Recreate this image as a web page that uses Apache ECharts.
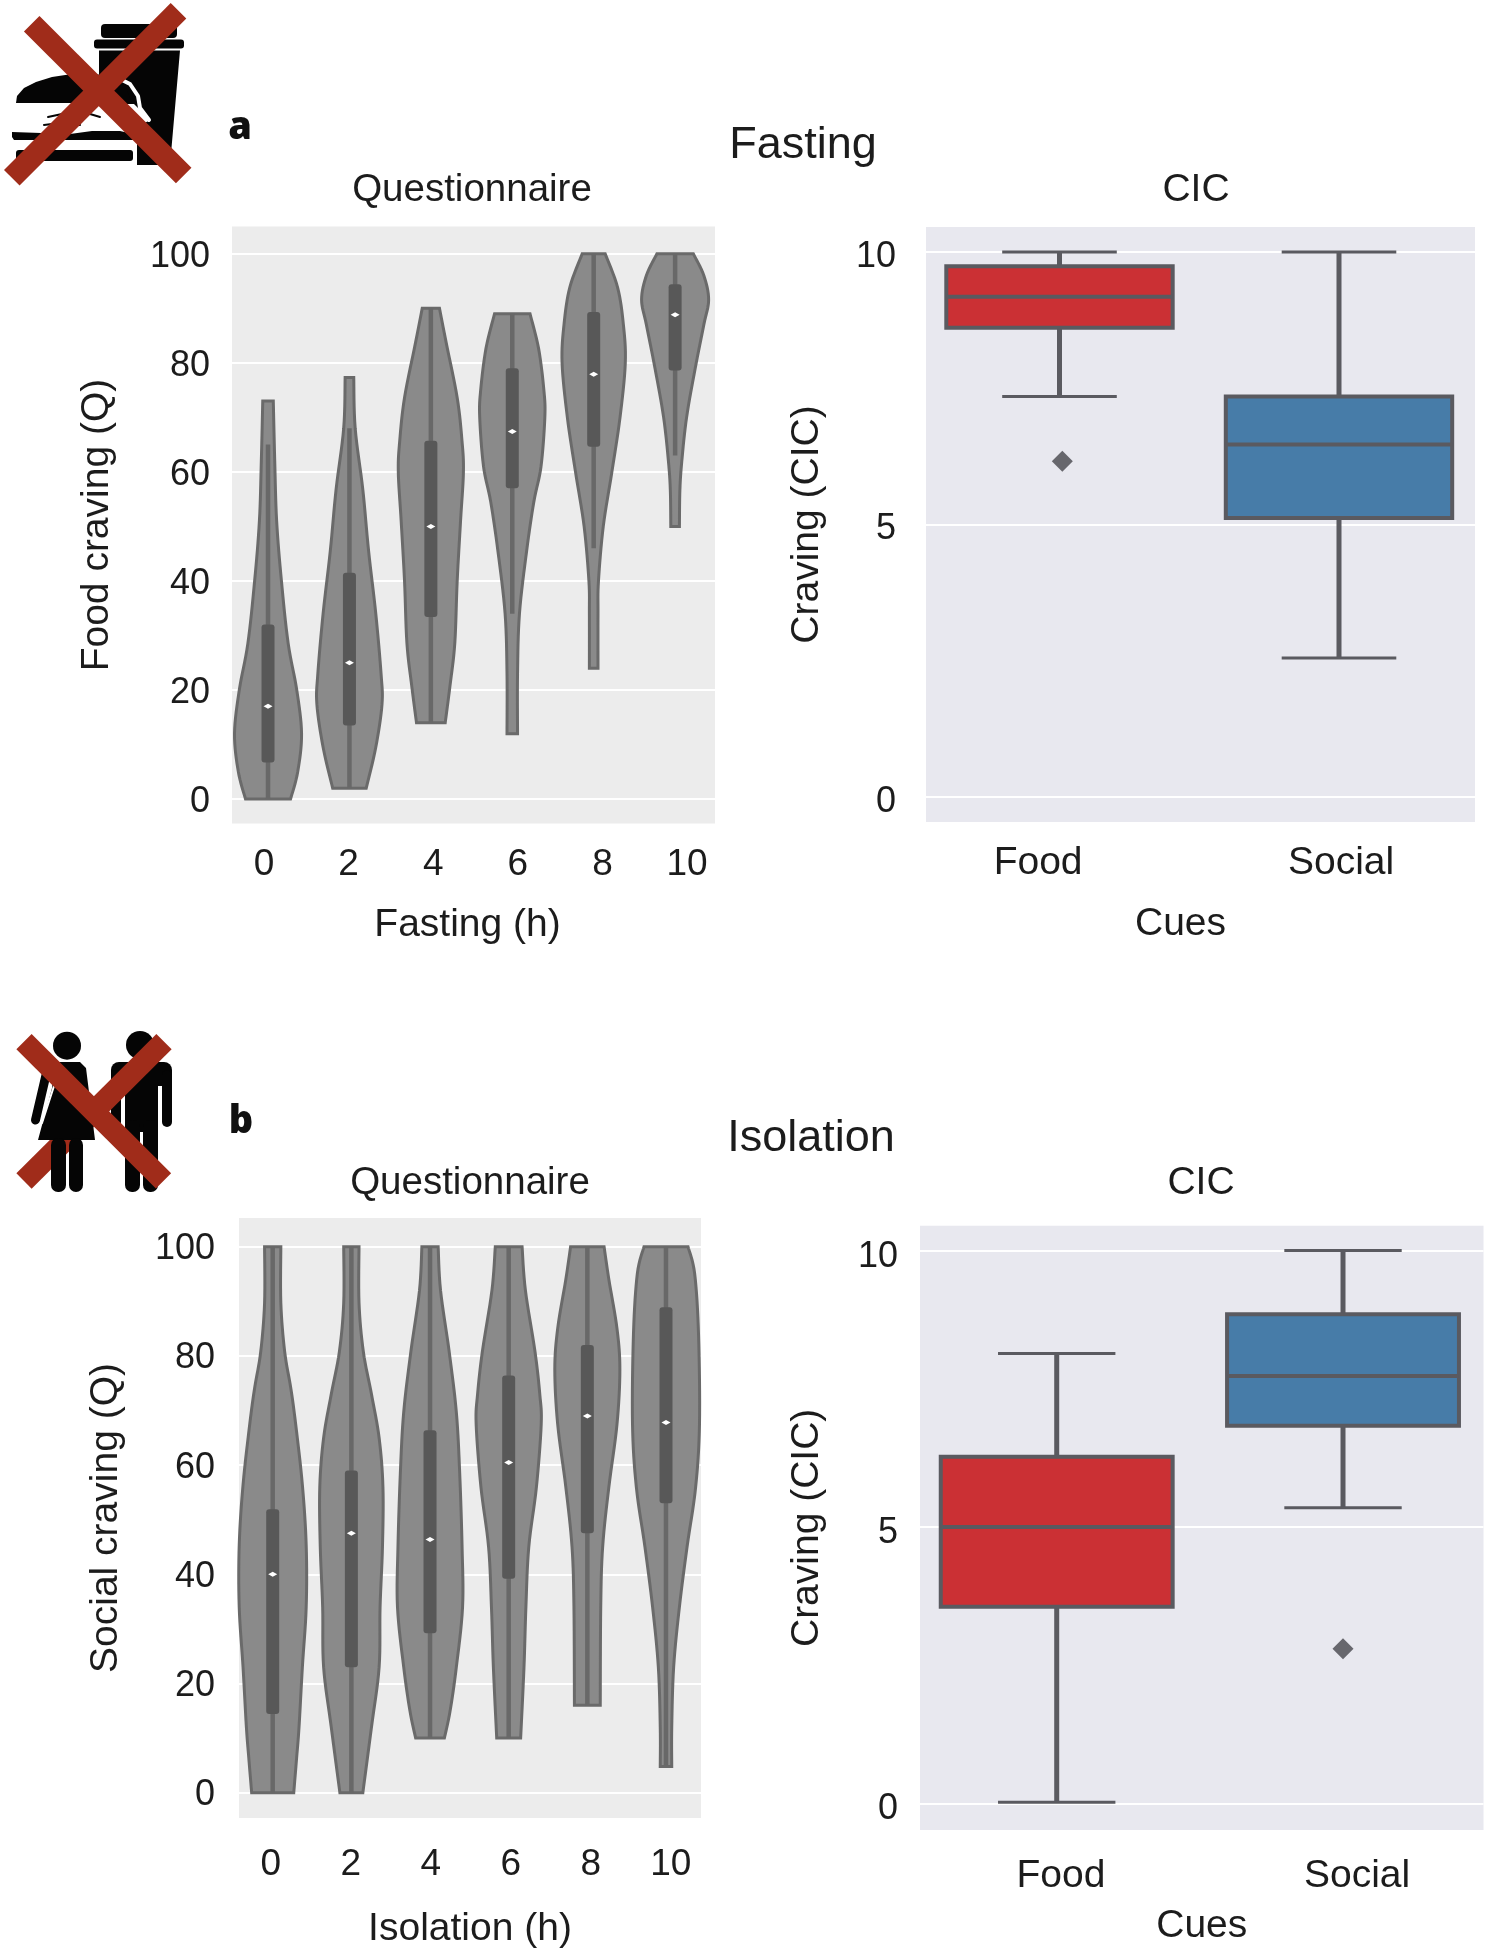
<!DOCTYPE html>
<html><head><meta charset="utf-8">
<style>html,body{margin:0;padding:0;background:#fff}#c{width:1492px;height:1950px}</style>
<script src="https://cdn.jsdelivr.net/npm/echarts@6/dist/echarts.min.js"></script>
</head><body><div id="c"></div>
<script>
// ---------- data ----------
const hours = [0, 2, 4, 6, 8, 10];
const cues = ['Food', 'Social'];
const questTicks = [0, 20, 40, 60, 80, 100];
const cicTicks = [0, 5, 10];

// violin statistics: [hour, whiskerLow, q1, median, q3, whiskerHigh]
const fastingStats = [
  [0, 0, 6.7, 17, 32, 65], [2, 2, 13.5, 25, 41.5, 68], [4, 14, 33.4, 50, 65.7, 90],
  [6, 34, 57, 67.4, 79, 89], [8, 46, 64.6, 77.9, 89.3, 100], [10, 63, 78.6, 88.8, 94.4, 100]
];
const isolationStats = [
  [0, 0, 14.4, 40, 51.9, 100], [2, 0, 23, 47.5, 59, 100], [4, 10, 29.2, 46.4, 66.4, 100],
  [6, 10, 39.2, 60.5, 76.4, 100], [8, 16, 47.5, 69, 82, 100], [10, 5, 53, 67.8, 88.9, 100]
];
// violin outlines: [craving, relative half width], from the top of each violin down
const fastingShape0 = [[73,11],[62,14],[51,18],[40,28],[28.6,42],[20,60],[12,70],[5,62],[0,47]];
const fastingShape2 = [[77.3,9],[68,12],[56.7,28],[45.5,40],[34,55],[23,66],[17.4,68],[9.5,55],[2,35]];
const fastingShape4 = [[90,18],[83.7,32],[73.6,55],[65.7,65],[60,68],[51,62],[40,55],[28.6,50],[20.8,40],[14,30]];
const fastingShape6 = [[89,37],[82.6,55],[75,66],[70,68],[61,60],[54.5,45],[45.5,30],[34,15],[23,11],[12,11]];
const fastingShape8 = [[100,24],[93.8,50],[87,62],[80,66],[70,55],[60,38],[50,20],[40,10],[34,9],[24,9]];
const fastingShape10 = [[100,38],[96,60],[91.6,70],[87,60],[79,42],[70,24],[62,14],[56.7,10],[50,9]];
const isolationShape0 = [[100,17],[89.7,17],[80.8,25],[74,38],[67.5,48],[56.4,62],[45.3,70],[34,70],[23,62],[12,55],[6.4,50],[0,44]];
const isolationShape2 = [[100,16],[89.7,16],[80.8,25],[73,42],[65,58],[56,66],[45,65],[34,60],[23,58],[12,42],[0,24]];
const isolationShape4 = [[100,17],[92,22],[80.8,40],[69.7,55],[58.6,62],[45,67],[34,68],[23,55],[15,42],[10,30]];
const isolationShape6 = [[100,28],[92,35],[80.8,55],[73,65],[67.5,68],[56,58],[45,42],[34,36],[23,32],[10,25]];
const isolationShape8 = [[100,35],[94,45],[85,62],[77.5,68],[67.5,62],[56,45],[45,32],[34,28],[16,27]];
const isolationShape10 = [[100,46],[95,60],[84,68],[67.5,70],[56,62],[45,44],[34,28],[23,16],[12,12],[4.8,12]];
const fastingShapes = [fastingShape0, fastingShape2, fastingShape4, fastingShape6, fastingShape8, fastingShape10];
const isolationShapes = [isolationShape0, isolationShape2, isolationShape4, isolationShape6, isolationShape8, isolationShape10];

// box statistics: [cue index, whiskerLow, q1, median, q3, whiskerHigh]
const fastingFood = [[0, 7.35, 8.61, 9.18, 9.74, 10]];
const fastingSocial = [[1, 2.55, 5.12, 6.47, 7.35, 10]];
const fastingOutliers = [[0.01, 6.16]];
const isolationFood = [[0, 0.02, 3.56, 5.0, 6.27, 8.14]];
const isolationSocial = [[1, 5.35, 6.83, 7.73, 8.85, 10]];
const isolationOutliers = [[1, 2.8]];

// ---------- styles ----------
const FONT = '"Liberation Sans", Arial, sans-serif';
const TXT = '#1c1c1c', EDGE = '#5a5a60', VEDGE = '#6a6a6a', INNER = '#585858', RED = '#cb3034', BLUE = '#477ca8', X_RED = '#a02c1a';

function catmull(pts) {            // smooth outline in pixel space
  const out = [];
  for (let i = 0; i < pts.length - 1; i++) {
    const p0 = pts[Math.max(i - 1, 0)], p1 = pts[i], p2 = pts[i + 1], p3 = pts[Math.min(i + 2, pts.length - 1)];
    for (let t = 0; t < 1; t += 0.125) {
      const t2 = t * t, t3 = t2 * t;
      out.push([0, 1].map(k => 0.5 * (2 * p1[k] + (p2[k] - p0[k]) * t + (2 * p0[k] - 5 * p1[k] + 4 * p2[k] - p3[k]) * t2 + (3 * p1[k] - p0[k] - 3 * p2[k] + p3[k]) * t3)));
    }
  }
  out.push(pts[pts.length - 1]);
  return out;
}
function violinSeries(idx, stats, shapes, hourScale) {
  return {
    type: 'custom', xAxisIndex: idx * 2, yAxisIndex: idx, data: stats,
    encode: { x: 0, y: [1, 2, 3, 4, 5] },
    renderItem(params, api) {
      const h = api.value(0), prof = shapes[params.dataIndex];
      const right = catmull(prof.map(p => api.coord([h + p[1] / hourScale, p[0]])));
      const left = catmull(prof.map(p => api.coord([h - p[1] / hourScale, p[0]]))).reverse();
      const cx = api.coord([h, 0])[0];
      const y = i => api.coord([h, api.value(i)])[1];
      return { type: 'group', children: [
        { type: 'polygon', shape: { points: right.concat(left) }, style: { fill: '#8a8a8a', stroke: VEDGE, lineWidth: 3 } },
        { type: 'line', shape: { x1: cx, y1: y(5), x2: cx, y2: y(1) }, style: { stroke: '#686868', lineWidth: 4.5 } },
        { type: 'rect', shape: { x: cx - 6.5, y: y(4), width: 13, height: y(2) - y(4), r: 3 }, style: { fill: INNER } },
        { type: 'polygon', shape: { points: [[cx - 4.5, y(3)], [cx, y(3) - 2.5], [cx + 4.5, y(3)], [cx, y(3) + 2.5]] }, style: { fill: '#ffffff' } }
      ] };
    }
  };
}
function boxSeries(name, idx, stats, color) {
  return {
    type: 'custom', name, xAxisIndex: idx * 2, yAxisIndex: idx, data: stats,
    encode: { x: 0, y: [1, 2, 3, 4, 5] },
    renderItem(params, api) {
      const c = api.value(0), P = (x, v) => api.coord([x, v]);
      const y = i => P(c, api.value(i))[1], cx = P(c, 0)[0];
      const xl = P(c - 0.405, 0)[0], xr = P(c + 0.405, 0)[0], cl = P(c - 0.205, 0)[0], cr = P(c + 0.205, 0)[0];
      const ln = (x1, y1, x2, y2, w) => ({ type: 'line', shape: { x1, y1, x2, y2 }, style: { stroke: EDGE, lineWidth: w } });
      return { type: 'group', children: [
        ln(cx, y(5), cx, y(4), 5), ln(cx, y(2), cx, y(1), 5),
        ln(cl, y(5), cr, y(5), 3), ln(cl, y(1), cr, y(1), 3),
        { type: 'rect', shape: { x: xl, y: y(4), width: xr - xl, height: y(2) - y(4) }, style: { fill: color, stroke: EDGE, lineWidth: 4 } },
        ln(xl, y(3), xr, y(3), 4)
      ] };
    }
  };
}
function outlierSeries(idx, data) {
  return { type: 'scatter', xAxisIndex: idx * 2, yAxisIndex: idx, data, symbol: 'diamond', symbolSize: 21, itemStyle: { color: '#46464c' } };
}

// panel rectangles and axis windows
const panels = [
  { l: 232, t: 226.5, r: 715, b: 823.6, bg: '#ececec', y: [-4.5, 105], ticks: questTicks, dataX: [-0.885, 10.98], labelX: [-0.757, 10.66], labels: hours, labelSize: 37, yName: 'Food craving (Q)', xName: 'Fasting (h)', yGap: 115, xGap: 82, yMargin: 22, xMargin: 23, yShift: 3, pad: [0, 12, 0, 0] },
  { l: 926, t: 227, r: 1475, b: 822, bg: '#e8e8ef', y: [-0.46, 10.46], ticks: cicTicks, dataX: [-0.4776, 1.4866], labelX: [-0.37, 1.442], labels: [0, 1], labelSize: 39, fmt: v => cues[v], yName: 'Craving (CIC)', xName: 'Cues', yGap: 99, xGap: 83, yMargin: 30, xMargin: 22, yShift: 5, pad: [0, 40, 0, 0] },
  { l: 239, t: 1218, r: 701, b: 1818, bg: '#ececec', y: [-4.63, 105.26], ticks: questTicks, dataX: [-0.857, 10.89], labelX: [-0.795, 10.755], labels: hours, labelSize: 37, yName: 'Social craving (Q)', xName: 'Isolation (h)', yGap: 113, xGap: 92, yMargin: 24, xMargin: 28, yShift: 2.5, pad: [0, 0, 0, 0] },
  { l: 920, t: 1225.7, r: 1483.5, b: 1830, bg: '#e8e8ef', y: [-0.48, 10.45], ticks: cicTicks, dataX: [-0.4775, 1.4907], labelX: [-0.476, 1.427], labels: [0, 1], labelSize: 39, fmt: v => cues[v], yName: 'Craving (CIC)', xName: 'Cues', yGap: 93, xGap: 77, yMargin: 22, xMargin: 27, yShift: 6, pad: [0, 0, 0, 0] }
];
const grid = [], xAxis = [], yAxis = [];
panels.forEach((p, i) => {
  grid.push({ left: p.l, top: p.t, width: p.r - p.l, height: p.b - p.t, show: true, backgroundColor: p.bg, borderWidth: 0 });
  xAxis.push({ type: 'value', gridIndex: i, min: p.dataX[0], max: p.dataX[1], show: false });
  xAxis.push({ type: 'value', gridIndex: i, position: 'bottom', min: p.labelX[0], max: p.labelX[1],
    axisLine: { show: false }, axisTick: { show: false, customValues: p.labels }, splitLine: { show: false },
    axisLabel: { customValues: p.labels, margin: p.xMargin, fontSize: p.labelSize, fontFamily: FONT, color: TXT, formatter: p.fmt || (v => String(v)) },
    name: p.xName, nameLocation: 'middle', nameGap: p.xGap, nameTextStyle: { fontSize: 39, fontFamily: FONT, color: TXT, padding: p.pad } });
  yAxis.push({ type: 'value', gridIndex: i, min: p.y[0], max: p.y[1],
    axisLine: { show: false }, axisTick: { show: false, customValues: p.ticks },
    splitLine: { show: true, lineStyle: { color: '#ffffff', width: 2 } },
    axisLabel: { customValues: p.ticks, margin: p.yMargin, fontSize: 36, fontFamily: FONT, color: TXT,
      verticalAlign: 'top', lineHeight: p.yShift * 2, formatter: v => String(v) },
    name: p.yName, nameLocation: 'middle', nameGap: p.yGap, nameTextStyle: { fontSize: 39, fontFamily: FONT, color: TXT } });
});

const heading = (text, cx, cy, size) => ({ text, left: cx, top: cy - size * 0.58 + 6, padding: 0, textAlign: 'center',
  textStyle: { fontFamily: FONT, fontWeight: 'normal', fontSize: size, color: TXT } });
const title = [
  heading('Fasting', 803, 143, 45), heading('Questionnaire', 472, 187, 38.5), heading('CIC', 1196, 187, 39),
  heading('Isolation', 811, 1136, 45), heading('Questionnaire', 470, 1180, 38.5), heading('CIC', 1201, 1180, 39)
];

// ---------- pictograms ----------
const K = '#050505', W = '#ffffff';
const poly = (points, fill) => ({ type: 'polygon', shape: { points }, style: { fill } });
const box = (x, y, w, h, fill, r) => ({ type: 'rect', shape: { x, y, width: w, height: h, r: r || 0 }, style: { fill } });
const disc = (cx, cy, r) => ({ type: 'circle', shape: { cx, cy, r }, style: { fill: K } });
const stroke = (points, color, w) => ({ type: 'polyline', shape: { points }, style: { stroke: color, lineWidth: w, fill: 'none', lineCap: 'round', lineJoin: 'round' } });
const cross = (x1, y1, x2, y2, w) => ({ type: 'line', shape: { x1, y1, x2, y2 }, style: { stroke: X_RED, lineWidth: w } });
const graphic = [
  // cup
  box(101, 24, 76, 14, K, 4),
  box(94, 39.5, 90, 9, K, 3),
  poly([[99, 50.5], [180, 50.5], [170, 165], [137, 165], [137, 120], [99, 110]], K),
  // burger with its white halo over the cup
  poly([[0, 104], [134, 104], [150, 120], [136, 128], [136, 170], [0, 170]], W),
  stroke([[118, 78], [130, 84], [138, 96], [140, 108], [149, 120]], W, 4),
  poly([[16, 103], [17, 96], [24, 88], [36, 82], [52, 77], [72, 74], [96, 74], [114, 78], [126, 88], [132, 103]], K),
  stroke([[48, 117], [62, 114], [90, 114], [100, 117]], K, 2),
  stroke([[44, 125], [60, 123], [80, 125]], K, 2),
  poly([[12, 132], [70, 134], [92, 131], [120, 131], [133, 134], [133, 140], [14, 140], [12, 137]], K),
  box(16, 150, 117, 11, K, 3),
  cross(31.7, 23.8, 183.7, 175.5, 22), cross(178.5, 10.8, 11.8, 177.8, 22),
  // man
  disc(140, 1045, 14),
  box(111, 1062, 61, 24, K, 8),
  box(125, 1070, 33, 62, K),
  box(111, 1070, 10, 57, K, 5), box(162, 1070, 10, 57, K, 5),
  box(125, 1120, 15, 72, K, 7), box(143, 1120, 15, 72, K, 7),
  // back stroke of the cross passes behind the woman
  cross(164, 1041.7, 24, 1181, 21.6),
  // woman
  disc(67, 1045.7, 14),
  poly([[58, 1062], [80, 1062], [86, 1068], [95, 1140], [38, 1140], [52, 1088], [54, 1070]], K),
  stroke([[58, 1067], [46, 1075], [35.5, 1120]], K, 9),
  stroke([[54, 1086], [42, 1123]], W, 2),
  box(51, 1138, 15, 54, K, 7), box(69, 1138, 14, 54, K, 7),
  cross(24, 1041.7, 163.5, 1180.8, 21.6),
  // panel letters
  { type: 'text', style: { text: 'a', x: 240, y: 128, align: 'center', verticalAlign: 'middle', font: '800 38px "Open Sans", sans-serif', fill: '#111' } },
  { type: 'text', style: { text: 'b', x: 241, y: 1122, align: 'center', verticalAlign: 'middle', font: '800 38px "Open Sans", sans-serif', fill: '#111' } }
];

const series = [
  violinSeries(0, fastingStats, fastingShapes, 85),
  boxSeries('Food', 1, fastingFood, RED), boxSeries('Social', 1, fastingSocial, BLUE), outlierSeries(1, fastingOutliers),
  violinSeries(2, isolationStats, isolationShapes, 82.2),
  boxSeries('Food', 3, isolationFood, RED), boxSeries('Social', 3, isolationSocial, BLUE), outlierSeries(3, isolationOutliers)
];
const chart = echarts.init(document.getElementById('c'), null, { renderer: 'canvas' });
chart.setOption({ backgroundColor: '#ffffff', animation: false, title, grid, xAxis, yAxis, series, graphic: { elements: graphic } });
</script></body></html>
